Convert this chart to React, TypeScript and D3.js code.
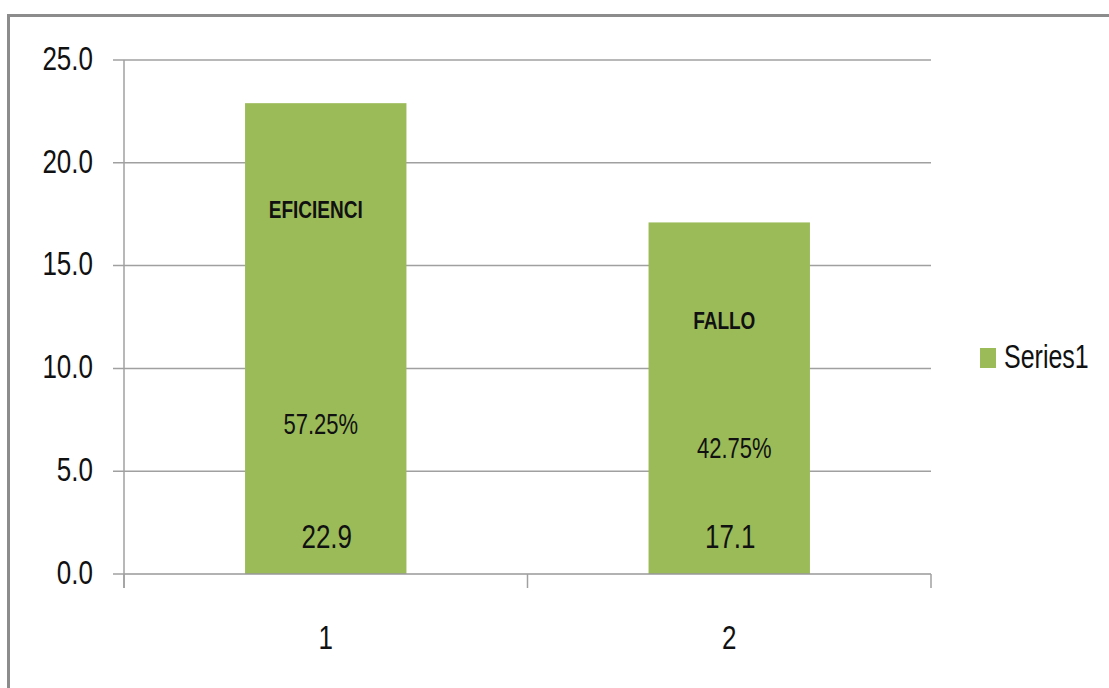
import React from "react";
import * as d3 from "d3";

const categories = ["1", "2"];
const values = [22.9, 17.1];
const labelNames = ["EFICIENCI", "FALLO"];
const percentLabels = ["57.25%", "42.75%"];
const yTicks = [0, 5, 10, 15, 20, 25];
const seriesName = "Series1";

const W = 1109;
const H = 688;
const plot = { left: 124, right: 931, top: 60, bottom: 574 };
const barColor = "#9BBB59";
const gridColor = "#a0a0a0";
const font = "'Liberation Sans', Arial, sans-serif";
const SY = 1.3;

function T({ x, y, size, anchor = "middle", weight = "normal", children }: any) {
  return (
    <text
      transform={`translate(${x},${y}) scale(1,${SY})`}
      fontSize={size}
      fontFamily={font}
      fontWeight={weight}
      textAnchor={anchor}
      dominantBaseline="central"
      fill="#111"
    >
      {children}
    </text>
  );
}

export default function App() {
  const x = d3.scaleBand<string>().domain(categories).range([plot.left, plot.right]).paddingInner(0.6).paddingOuter(0.3);
  const band = d3.scaleBand<string>().domain(categories).range([plot.left, plot.right]);
  const y = d3.scaleLinear().domain([0, 25]).range([plot.bottom, plot.top]);

  const nameY = [210, 321];
  const pctY = [424, 448];
  const nameDx = [-10, -5];
  const pctDx = [-5, 5];

  return (
    <svg width={W} height={H} style={{ position: "absolute", left: 0, top: 0, background: "#fff" }}>
      <rect x={8.5} y={15.5} width={W + 20} height={H + 20} fill="none" stroke="#8c8c8c" strokeWidth={3} />
      {yTicks.map((t) => (
        <g key={t}>
          <line x1={plot.left - 11} x2={t === 0 ? plot.left : plot.right} y1={y(t)} y2={y(t)} stroke={gridColor} strokeWidth={1.5} />
          <T x={93} y={y(t) - 2} size={26} anchor="end">{t.toFixed(1)}</T>
        </g>
      ))}
      {categories.map((c, i) => {
        const bx = x(c)!;
        const bw = x.bandwidth();
        const cx = bx + bw / 2;
        return (
          <g key={c}>
            <rect x={bx} y={y(values[i])} width={bw} height={y(0) - y(values[i])} fill={barColor} />
            <T x={cx + nameDx[i]} y={nameY[i]} size={19} weight="bold">{labelNames[i]}</T>
            <T x={cx + pctDx[i]} y={pctY[i]} size={22}>{percentLabels[i]}</T>
            <T x={cx + 1} y={y(0) - 38} size={26}>{values[i].toFixed(1)}</T>
            <T x={band(c)! + band.bandwidth() / 2} y={637} size={26}>{c}</T>
          </g>
        );
      })}
      <line x1={plot.left} x2={plot.right} y1={y(0)} y2={y(0)} stroke="#999" strokeWidth={1.5} />
      <line x1={plot.left} x2={plot.left} y1={plot.top} y2={588} stroke={gridColor} strokeWidth={1.5} />
      {[0, 1, 2].map((k) => {
        const tx = plot.left + k * band.bandwidth();
        return <line key={k} x1={tx} x2={tx} y1={y(0)} y2={588} stroke={gridColor} strokeWidth={1.5} />;
      })}
      <rect x={980} y={348} width={16} height={20} fill={barColor} />
      <T x={1004} y={357} size={25} anchor="start">{seriesName}</T>
    </svg>
  );
}
